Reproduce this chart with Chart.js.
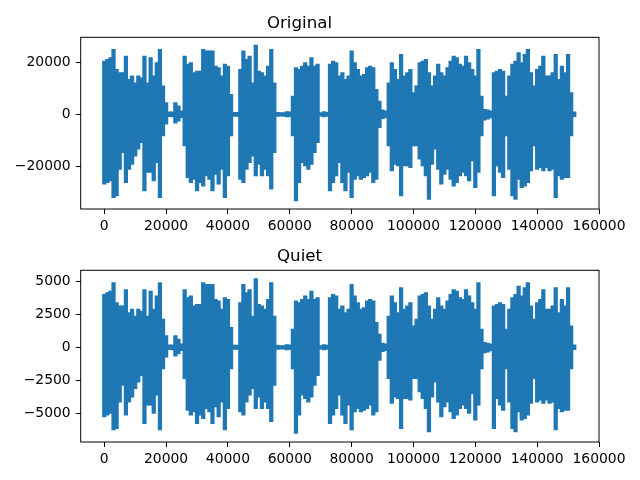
<!DOCTYPE html>
<html>
<head>
<meta charset="utf-8">
<script src="https://cdn.jsdelivr.net/npm/chart.js@4.4.1/dist/chart.umd.min.js"></script>
<style>
  html, body { margin: 0; padding: 0; background: #fff; }
  #wrap { position: relative; width: 640px; height: 480px; overflow: hidden; }
  canvas { position: absolute; left: 0; }
  #top { top: 0; }
  #bottom { top: 233px; }
</style>
</head>
<body>
<div id="wrap">
  <canvas id="top" width="640" height="240"></canvas>
  <canvas id="bottom" width="640" height="240"></canvas>
</div>
<script>
// envelope of the waveform, one max/min pair every 1000 samples
const STEP = 1000;

const originalHigh = [
  20400, 21100, 21700, 24900, 17200, 16000, 16000, 22300, 13400, 14700,
  12100, 14700, 14000, 22300, 12100, 21700, 14700, 19800, 24900, 10900,
  4500, 900, 900, 4500, 3200, 1300, 22300, 19200, 19800, 16000,
  16600, 16600, 24900, 24300, 24300, 24300, 18500, 17900, 14700, 19200,
  18500, 7700, 800, 800, 17200, 24300, 21100, 22300, 12100, 26500,
  16600, 16000, 14700, 18500, 24900, 12100, 800, 700, 700, 1000,
  900, 7000, 17900, 17200, 18500, 19800, 18500, 21700, 18500, 19200,
  700, 1000, 800, 19200, 20400, 19800, 14700, 16000, 13400, 14700,
  24300, 19800, 17200, 14700, 15300, 17900, 18500, 17900, 9600, 5100,
  1700, 1300, 12100, 19800, 17200, 13400, 23000, 14700, 16000, 17200,
  8300, 10900, 19800, 20400, 21100, 16000, 10900, 14700, 19200, 16000,
  14700, 17900, 20400, 22300, 21700, 19200, 18500, 22300, 19800, 17200,
  14700, 24900, 7000, 1900, 1700, 1300, 16000, 16600, 17200, 16600,
  7000, 14700, 19200, 20400, 23600, 19800, 23000, 24900, 16000, 10900,
  17200, 18500, 22300, 14700, 14700, 16000, 23000, 13400, 18500, 16000,
  23000, 8300, 900
];
const originalLow = [
  -26800, -26200, -25500, -31900, -31300, -21100, -14700, -26200, -21100, -19200,
  -16000, -13400, -10900, -29400, -22300, -22300, -25500, -18500, -31900, -8300,
  -3800, -900, -1000, -3400, -2600, -1300, -12100, -24300, -26200, -24900,
  -29400, -26200, -27500, -23600, -24900, -29400, -23000, -26800, -21100, -31900,
  -23600, -8300, -800, -800, -24900, -26200, -21100, -18500, -16000, -23600,
  -19200, -23600, -21100, -23600, -28700, -14700, -800, -700, -700, -1000,
  -900, -8300, -33200, -26200, -18500, -19800, -21100, -19200, -14700, -10900,
  -700, -1000, -800, -29400, -26200, -23600, -18500, -26200, -29400, -22300,
  -31900, -24900, -23600, -24900, -24300, -23600, -22300, -26200, -24900, -5100,
  -1700, -1300, -12100, -21700, -19200, -19800, -31300, -19800, -19800, -20400,
  -12100, -12100, -17200, -19800, -23600, -32600, -19200, -13400, -21100, -26800,
  -23000, -21100, -24900, -27500, -26200, -23600, -22300, -23600, -25500, -17900,
  -28100, -22300, -8300, -2200, -1900, -1400, -31300, -19800, -22300, -24300,
  -8300, -21100, -31300, -32600, -24900, -28100, -27500, -26200, -21700, -12100,
  -21100, -20400, -21700, -20400, -21700, -21100, -31900, -23600, -24900, -24300,
  -24300, -8300, -900
];

const quietHigh = [
  4020, 4160, 4270, 4910, 3390, 3150, 3150, 4390, 2640, 2900,
  2380, 2900, 2760, 4390, 2380, 4270, 2900, 3900, 4910, 2150,
  890, 180, 180, 890, 630, 260, 4390, 3780, 3900, 3150,
  3270, 3270, 4910, 4790, 4790, 4790, 3640, 3530, 2900, 3780,
  3640, 1520, 160, 160, 3390, 4790, 4160, 4390, 2380, 5220,
  3270, 3150, 2900, 3640, 4910, 2380, 160, 140, 140, 200,
  180, 1380, 3530, 3390, 3640, 3900, 3640, 4270, 3640, 3780,
  140, 200, 160, 3780, 4020, 3900, 2900, 3150, 2640, 2900,
  4790, 3900, 3390, 2900, 3010, 3530, 3640, 3530, 1890, 1000,
  330, 260, 2380, 3900, 3390, 2640, 4530, 2900, 3150, 3390,
  1640, 2150, 3900, 4020, 4160, 3150, 2150, 2900, 3780, 3150,
  2900, 3530, 4020, 4390, 4270, 3780, 3640, 4390, 3900, 3390,
  2900, 4910, 1380, 370, 330, 260, 3150, 3270, 3390, 3270,
  1380, 2900, 3780, 4020, 4650, 3900, 4530, 4910, 3150, 2150,
  3390, 3640, 4390, 2900, 2900, 3150, 4530, 2640, 3640, 3150,
  4530, 1640, 180
];
const quietLow = [
  -5280, -5160, -5020, -6280, -6170, -4160, -2900, -5160, -4160, -3780,
  -3150, -2640, -2150, -5790, -4390, -4390, -5020, -3640, -6280, -1640,
  -750, -180, -200, -670, -510, -260, -2380, -4790, -5160, -4910,
  -5790, -5160, -5420, -4650, -4910, -5790, -4530, -5280, -4160, -6280,
  -4650, -1640, -160, -160, -4910, -5160, -4160, -3640, -3150, -4650,
  -3780, -4650, -4160, -4650, -5650, -2900, -160, -140, -140, -200,
  -180, -1640, -6540, -5160, -3640, -3900, -4160, -3780, -2900, -2150,
  -140, -200, -160, -5790, -5160, -4650, -3640, -5160, -5790, -4390,
  -6280, -4910, -4650, -4910, -4790, -4650, -4390, -5160, -4910, -1000,
  -330, -260, -2380, -4270, -3780, -3900, -6170, -3900, -3900, -4020,
  -2380, -2380, -3390, -3900, -4650, -6420, -3780, -2640, -4160, -5280,
  -4530, -4160, -4910, -5420, -5160, -4650, -4390, -4650, -5020, -3530,
  -5540, -4390, -1640, -430, -370, -280, -6170, -3900, -4390, -4790,
  -1640, -4160, -6170, -6420, -4910, -5540, -5420, -5160, -4270, -2380,
  -4160, -4020, -4270, -4020, -4270, -4160, -6280, -4650, -4910, -4790,
  -4790, -1640, -180
];

const xTicks = [0, 20000, 40000, 60000, 80000, 100000, 120000, 140000, 160000];
const originalTicks = [-20000, 0, 20000];
const quietTicks = [-5000, -2500, 0, 2500, 5000];

const FONT = 'DejaVu Sans';
const BLUE = '#1f77b4';

function fmt(v) {
  return v < 0 ? '\u2212' + Math.abs(v) : String(v);
}

// matplotlib style box around the axes
const frame = {
  id: 'frame',
  afterDraw(chart) {
    const a = chart.chartArea;
    const ctx = chart.ctx;
    ctx.save();
    ctx.strokeStyle = '#000';
    ctx.lineWidth = 1;
    ctx.strokeRect(a.left, a.top, a.right - a.left, a.bottom - a.top);
    ctx.restore();
  }
};

function makeChart(id, title, highs, lows, yMin, yMax, yTicks) {
  // each column spans the min..max of one block of samples
  const cols = highs.map((h, i) => ({ x: i * STEP, y: [lows[i], h] }));

  return new Chart(document.getElementById(id), {
    type: 'bar',
    data: {
      datasets: [{
        data: cols,
        backgroundColor: BLUE,
        borderWidth: 0,
        barThickness: 3.6,
        borderSkipped: false
      }]
    },
    options: {
      responsive: false,
      animation: false,
      events: [],
      layout: { padding: { left: 0, right: 41, top: 0, bottom: 0 } },
      plugins: {
        legend: { display: false },
        tooltip: { enabled: false },
        title: {
          display: true,
          text: title,
          color: '#000',
          font: { family: FONT, size: 16.67, weight: 'normal' },
          padding: { top: 14, bottom: 3.3 }
        }
      },
      scales: {
        x: {
          type: 'linear',
          offset: false,
          min: -7619,
          max: 160000,
          afterBuildTicks: s => { s.ticks = xTicks.map(v => ({ value: v })); },
          afterFit: s => { s.height = 31; },
          border: { display: false },
          grid: { offset: false, drawOnChartArea: false, drawTicks: true, tickLength: 5, color: '#000', lineWidth: 1 },
          ticks: {
            padding: 4,
            maxRotation: 0,
            autoSkip: false,
            color: '#000',
            font: { family: FONT, size: 13.9 },
            callback: v => fmt(v)
          }
        },
        y: {
          type: 'linear',
          min: yMin,
          max: yMax,
          afterBuildTicks: s => { s.ticks = yTicks.map(v => ({ value: v })); },
          afterFit: s => { s.width = 80.7; },
          border: { display: false },
          grid: { drawOnChartArea: false, drawTicks: true, tickLength: 5, color: '#000', lineWidth: 1 },
          ticks: {
            padding: 5,
            autoSkip: false,
            color: '#000',
            font: { family: FONT, size: 13.9 },
            callback: v => fmt(v)
          }
        }
      }
    },
    plugins: [frame]
  });
}

makeChart('top', 'Original', originalHigh, originalLow, -36280, 29500, originalTicks);
makeChart('bottom', 'Quiet', quietHigh, quietLow, -7190, 5847, quietTicks);
</script>
</body>
</html>
